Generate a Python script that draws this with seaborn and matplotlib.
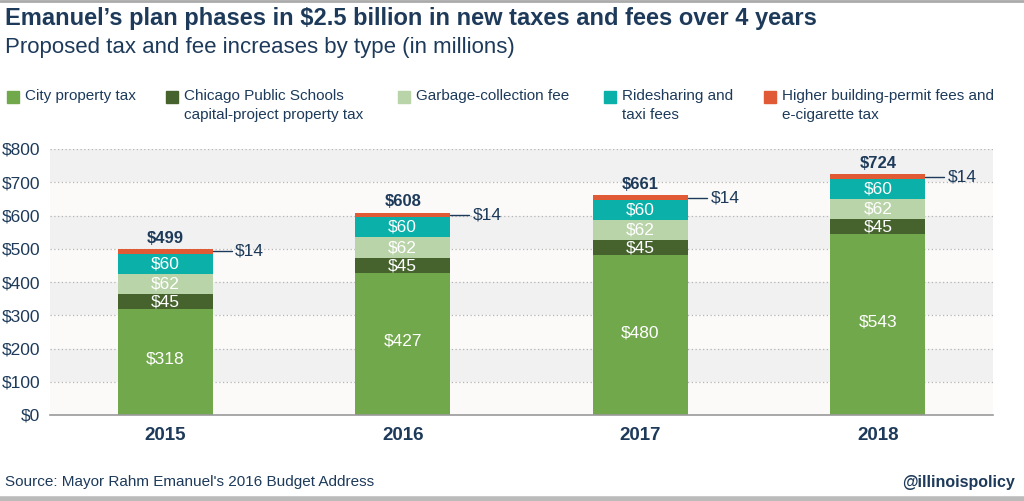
import matplotlib
matplotlib.use("Agg")
import matplotlib.pyplot as plt
import seaborn as sns
import pandas as pd
import numpy as np
from matplotlib.patches import Rectangle
from matplotlib.lines import Line2D

years = ["2015", "2016", "2017", "2018"]
city_property = [318, 427, 480, 543]
cps_property = [45, 45, 45, 45]
garbage_fee = [62, 62, 62, 62]
rideshare_fees = [60, 60, 60, 60]
permit_ecig = [14, 14, 14, 14]
totals = [499, 608, 661, 724]

series_names = ["City property tax",
                "Chicago Public Schools\ncapital-project property tax",
                "Garbage-collection fee",
                "Ridesharing and\ntaxi fees",
                "Higher building-permit fees and\ne-cigarette tax"]
series_vals = [city_property, cps_property, garbage_fee, rideshare_fees, permit_ecig]
colors = ["#72a84c", "#46632e", "#b9d4a8", "#0bb0a8", "#e05a35"]
navy = "#1d3a5a"

sns.set_style("white")
plt.rcParams['font.family'] = ['Liberation Sans', 'DejaVu Sans']

fig = plt.figure(figsize=(10.24, 5.01), dpi=100)
W, H = 1024, 501
ax = fig.add_axes([50 / W, 1 - 415 / H, 943 / W, 266 / H])

# alternating background bands
for lo in range(0, 800, 100):
    c = "#f1f1f1" if (lo // 100) % 2 == 1 else "#fbfaf9"
    ax.axhspan(lo, lo + 100, color=c, zorder=0, lw=0)
for yv in range(100, 900, 100):
    ax.axhline(yv, color="#b5b5b5", ls=(0, (1, 2)), lw=0.9, zorder=1)

df = pd.DataFrame({"year": years})
bottom = np.zeros(len(years))
for name, vals, col in zip(series_names, series_vals, colors):
    df["v"] = vals
    sns.barplot(data=df, x="year", y="v", bottom=bottom, color=col, width=0.4,
                ax=ax, zorder=2, linewidth=0, saturation=1)
    bottom = bottom + np.array(vals)

# segment labels
for i in range(len(years)):
    base = 0
    for k, vals in enumerate(series_vals):
        v = vals[i]
        if k == 0:
            ax.text(i, base + v / 2 + 8, f"${v}", ha="center", va="center",
                    color="white", fontsize=12.5, zorder=3)
        elif k < 4:
            ax.text(i, base + v / 2, f"${v}", ha="center", va="center",
                    color="white", fontsize=12.5, zorder=3)
        else:
            yc = base + v / 2
            ax.plot([i + 0.2, i + 0.28], [yc, yc], color=navy, lw=1, zorder=3)
            ax.text(i + 0.295, yc, f"${v}", ha="left", va="center",
                    color=navy, fontsize=12.5, zorder=3)
        base += v
    ax.text(i, totals[i] + 33, f"${totals[i]}", ha="center", va="center",
            color=navy, fontsize=12, fontweight="bold", zorder=3)

ax.set_ylim(0, 800)
ax.set_xlim(-0.485, 3.485)
ax.set_yticks(range(0, 900, 100))
ax.set_yticklabels([f"${t}" for t in range(0, 900, 100)], color=navy, fontsize=12.5)
ax.set_xticks(range(4))
ax.set_xticklabels(years, color=navy, fontsize=13.5, fontweight="bold")
ax.tick_params(axis="both", length=0, pad=7)
ax.tick_params(axis="x", pad=9)
ax.set_xlabel("")
ax.set_ylabel("")
for s in ["top", "right", "left"]:
    ax.spines[s].set_visible(False)
ax.spines["bottom"].set_color("#999999")
ax.spines["bottom"].set_linewidth(1.2)

# titles
fig.text(5 / W, 1 - 19 / H, "Emanuel’s plan phases in $2.5 billion in new taxes and fees over 4 years",
         color=navy, fontsize=17, fontweight="bold", va="center", ha="left")
fig.text(5 / W, 1 - 48 / H, "Proposed tax and fee increases by type (in millions)",
         color=navy, fontsize=16, va="center", ha="left")

# legend
leg_x = [7, 166, 398, 604, 764]
for x, name, col in zip(leg_x, series_names, colors):
    fig.add_artist(Rectangle((x / W, 1 - 103 / H), 12 / W, 12 / H, color=col,
                             transform=fig.transFigure))
    fig.text((x + 18) / W, 1 - 89 / H, name, color=navy, fontsize=11, va="top",
             ha="left", linespacing=1.45)

# footer
fig.text(5 / W, 1 - 482 / H, "Source: Mayor Rahm Emanuel's 2016 Budget Address",
         color=navy, fontsize=11, va="center", ha="left")
fig.text(1015 / W, 1 - 482 / H, "@illinoispolicy", color=navy, fontsize=11.5,
         fontweight="bold", va="center", ha="right")
fig.add_artist(Line2D([0, 1], [1 - 1 / H, 1 - 1 / H], color="#aaaaaa", lw=2,
                      transform=fig.transFigure))
fig.add_artist(Line2D([0, 1], [2.5 / H, 2.5 / H], color="#bbbbbb", lw=4,
                      transform=fig.transFigure))

fig.savefig("out.png", dpi=100, facecolor="white")
